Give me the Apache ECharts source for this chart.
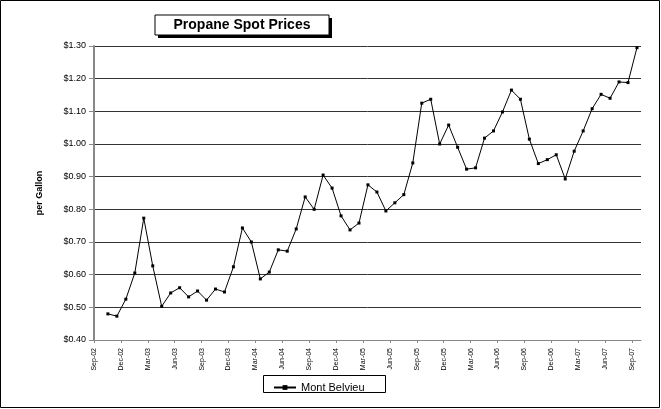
<!DOCTYPE html><html><head><meta charset="utf-8"><script src="https://cdn.jsdelivr.net/npm/echarts@6/dist/echarts.min.js"></script>
<style>body{margin:0}#c{width:661px;height:409px}</style></head><body><div id="c"></div><script>
const monthLabels=['Sep-02','Dec-02','Mar-03','Jun-03','Sep-03','Dec-03','Mar-04','Jun-04','Sep-04','Dec-04','Mar-05','Jun-05','Sep-05','Dec-05','Mar-06','Jun-06','Sep-06','Dec-06','Mar-07','Jun-07','Sep-07'];
const prices=[0.48,0.473,0.525,0.605,0.773,0.627,0.503,0.544,0.56,0.532,0.55,0.522,0.556,0.547,0.624,0.743,0.70,0.587,0.608,0.676,0.672,0.74,0.838,0.80,0.905,0.865,0.78,0.737,0.758,0.875,0.853,0.795,0.82,0.845,0.942,1.125,1.137,1.0,1.058,0.99,0.923,0.927,1.018,1.04,1.098,1.165,1.137,1.015,0.94,0.952,0.967,0.893,0.978,1.04,1.108,1.152,1.14,1.19,1.188,1.295];
const data=prices.map((v,i)=>[i+1.55,v]);
const ch=echarts.init(document.getElementById('c'));
ch.setOption({animation:false,backgroundColor:'#fff',
graphic:[{type:'rect',shape:{x:0.5,y:0.5,width:659,height:407},style:{fill:'none',stroke:'#000',lineWidth:1}},
{type:'rect',shape:{x:158,y:18,width:174,height:20},style:{fill:'#000'}},
{type:'rect',shape:{x:155,y:15,width:174,height:20},style:{fill:'#fff',stroke:'#000',lineWidth:1}},
{type:'text',x:242,y:25,style:{text:'Propane Spot Prices',font:'bold 14px Arial, Liberation Sans',fill:'#000',align:'center',verticalAlign:'middle'}},
{type:'rect',shape:{x:263.5,y:375.5,width:122,height:17},style:{fill:'#fff',stroke:'#000',lineWidth:1}}],
legend:{left:268,top:377,itemWidth:22,itemHeight:6,textStyle:{fontSize:11,fontFamily:'Arial',color:'#000'},data:[{name:'Mont Belvieu',itemStyle:{borderWidth:0}}]},
grid:{left:94,right:20,top:46,bottom:69},
xAxis:{type:'value',min:0,max:61,interval:3,splitLine:{show:false},axisLine:{lineStyle:{color:'#888'}},axisTick:{lineStyle:{color:'#888'},length:3},
axisLabel:{rotate:90,fontSize:7,fontFamily:'Arial',color:'#000',showMaxLabel:false,formatter:v=>monthLabels[v/3]||''}},
yAxis:{type:'value',min:0.4,max:1.3,interval:0.1,name:'per Gallon',nameLocation:'middle',nameGap:50,nameTextStyle:{fontWeight:'bold',fontSize:9,fontFamily:'Arial',color:'#000'},
axisLine:{show:true,lineStyle:{color:'#888',width:2}},axisTick:{show:true,lineStyle:{color:'#888'}},
axisLabel:{fontSize:9,fontFamily:'Arial',color:'#000',formatter:v=>'$'+v.toFixed(2)},splitLine:{lineStyle:{color:'#333',width:1}}},
series:[{name:'Mont Belvieu',type:'line',data:data,symbol:'rect',symbolSize:3,itemStyle:{color:'#000'},lineStyle:{color:'#000',width:1}}]});
</script></body></html>
